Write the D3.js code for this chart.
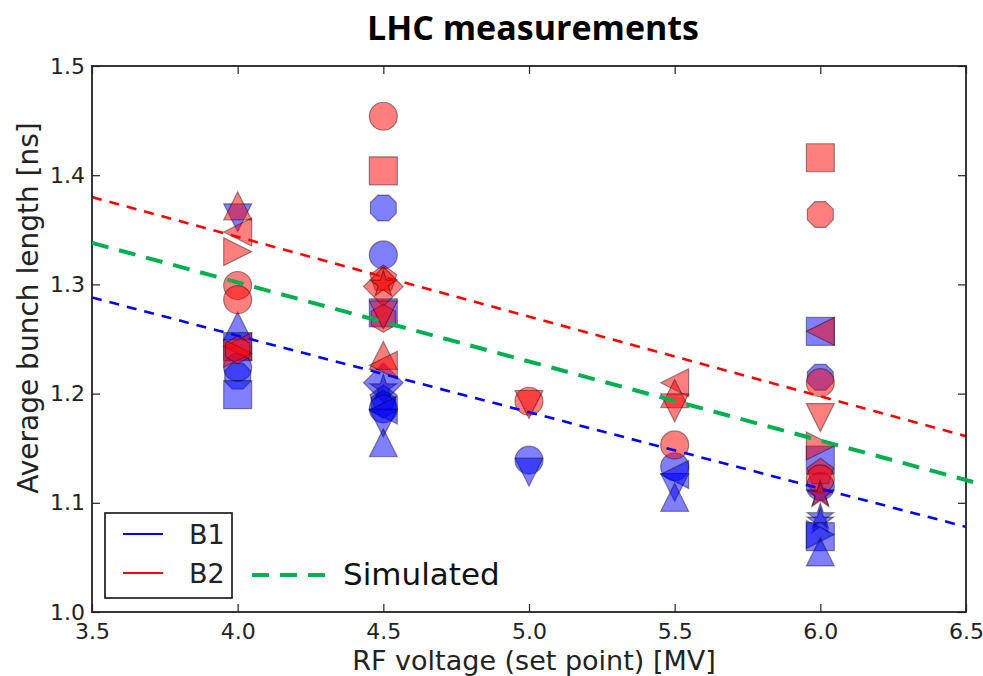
<!DOCTYPE html>
<html><head><meta charset="utf-8">
<script src="https://cdn.jsdelivr.net/npm/d3@7"></script>
<style>body{margin:0;background:#fff}svg{display:block}</style>
</head><body>
<svg id="chart" width="983" height="676"></svg>
<script>
// ---------- data ----------
const xTicks = [3.5, 4.0, 4.5, 5.0, 5.5, 6.0, 6.5];
const yTicks = [1.0, 1.1, 1.2, 1.3, 1.4, 1.5];
const titleText = "LHC measurements";
const xLabel = "RF voltage (set point) [MV]";
const yLabel = "Average bunch length [ns]";
const legendLabels = ["B1", "B2"];
const simLabel = "Simulated";

// measured average bunch length, beam 1 (voltage, length, marker)
const b1Points = [
  {v:4.0, len:1.361, m:"v"}, {v:4.0, len:1.262, m:"^"}, {v:4.0, len:1.243, m:"s"},
  {v:4.0, len:1.224, m:"o"}, {v:4.0, len:1.216, m:"8"}, {v:4.0, len:1.199, m:"s"},
  {v:4.5, len:1.370, m:"8"}, {v:4.5, len:1.327, m:"o"}, {v:4.5, len:1.274, m:"s"},
  {v:4.5, len:1.210, m:"D"}, {v:4.5, len:1.205, m:"*"}, {v:4.5, len:1.195, m:"p"},
  {v:4.5, len:1.190, m:"h"}, {v:4.5, len:1.186, m:"o"}, {v:4.5, len:1.185, m:"<"},
  {v:4.5, len:1.173, m:"v"}, {v:4.5, len:1.155, m:"^"},
  {v:5.0, len:1.139, m:"o"}, {v:5.0, len:1.128, m:"v"},
  {v:5.5, len:1.133, m:"o"}, {v:5.5, len:1.126, m:"<"}, {v:5.5, len:1.114, m:"v"},
  {v:5.5, len:1.105, m:"^"},
  {v:6.0, len:1.257, m:"s"}, {v:6.0, len:1.215, m:"8"}, {v:6.0, len:1.139, m:"s"},
  {v:6.0, len:1.115, m:"o"}, {v:6.0, len:1.108, m:"*"}, {v:6.0, len:1.087, m:"*"},
  {v:6.0, len:1.083, m:"*"}, {v:6.0, len:1.069, m:"s"}, {v:6.0, len:1.071, m:">"},
  {v:6.0, len:1.055, m:"^"}
];
// measured average bunch length, beam 2
const b2Points = [
  {v:4.0, len:1.372, m:"^"}, {v:4.0, len:1.348, m:"<"}, {v:4.0, len:1.330, m:">"},
  {v:4.0, len:1.299, m:"o"}, {v:4.0, len:1.286, m:"o"}, {v:4.0, len:1.243, m:"<"},
  {v:4.0, len:1.237, m:">"}, {v:4.0, len:1.240, m:"h"},
  {v:4.5, len:1.454, m:"o"}, {v:4.5, len:1.404, m:"s"}, {v:4.5, len:1.305, m:"p"},
  {v:4.5, len:1.298, m:"D"}, {v:4.5, len:1.300, m:"*"}, {v:4.5, len:1.269, m:"h"},
  {v:4.5, len:1.272, m:"v"}, {v:4.5, len:1.235, m:"^"}, {v:4.5, len:1.226, m:"<"},
  {v:5.0, len:1.193, m:"o"}, {v:5.0, len:1.190, m:"v"},
  {v:5.5, len:1.210, m:"<"}, {v:5.5, len:1.200, m:"^"}, {v:5.5, len:1.187, m:"v"},
  {v:5.5, len:1.153, m:"o"},
  {v:6.0, len:1.416, m:"s"}, {v:6.0, len:1.364, m:"8"}, {v:6.0, len:1.257, m:"<"},
  {v:6.0, len:1.210, m:"o"}, {v:6.0, len:1.178, m:"v"}, {v:6.0, len:1.152, m:">"},
  {v:6.0, len:1.128, m:"p"}, {v:6.0, len:1.122, m:"o"}, {v:6.0, len:1.107, m:"*"}
];
// linear fits and simulation
const b1Fit = [{v:3.5, len:1.288}, {v:6.5, len:1.078}];
const b2Fit = [{v:3.5, len:1.380}, {v:6.5, len:1.161}];
const simFit = [{v:3.5, len:1.338}, {v:6.56, len:1.1165}];

// ---------- layout ----------
const W = 983, H = 676;
const plot = {left:92, right:966, top:66, bottom:612};
const svg = d3.select("#chart");
svg.append("rect").attr("width", W).attr("height", H).attr("fill", "#fff");

const x = d3.scaleLinear().domain([3.5, 6.5]).range([plot.left, plot.right]);
const y = d3.scaleLinear().domain([1.0, 1.5]).range([plot.bottom, plot.top]);

const fontMain = "'DejaVu Sans', sans-serif";
const textCol = "#222";

// marker shapes (size = full diameter in px)
function poly(ctx, pts) {
  ctx.moveTo(pts[0][0], pts[0][1]);
  for (let i = 1; i < pts.length; i++) ctx.lineTo(pts[i][0], pts[i][1]);
  ctx.closePath();
}
function regular(n, r, rot) {
  return d3.range(n).map(i => {
    const a = rot + i * 2 * Math.PI / n;
    return [r * Math.sin(a), -r * Math.cos(a)];
  });
}
const shapes = {
  "o": {draw(ctx, s){ const r = s/2; ctx.moveTo(r,0); ctx.arc(0,0,r,0,2*Math.PI); ctx.closePath(); }},
  "s": {draw(ctx, s){ const h = s/2; poly(ctx, [[-h,-h],[h,-h],[h,h],[-h,h]]); }},
  "8": {draw(ctx, s){ poly(ctx, regular(8, s/2, Math.PI/8)); }},
  "^": {draw(ctx, s){ const h = s/2; poly(ctx, [[0,-h],[h,h],[-h,h]]); }},
  "v": {draw(ctx, s){ const h = s/2; poly(ctx, [[0,h],[h,-h],[-h,-h]]); }},
  "<": {draw(ctx, s){ const h = s/2; poly(ctx, [[-h,0],[h,-h],[h,h]]); }},
  ">": {draw(ctx, s){ const h = s/2; poly(ctx, [[h,0],[-h,-h],[-h,h]]); }},
  "D": {draw(ctx, s){ const h = s/Math.SQRT2; poly(ctx, [[0,-h],[h,0],[0,h],[-h,0]]); }},
  "p": {draw(ctx, s){ poly(ctx, regular(5, s/2, 0)); }},
  "h": {draw(ctx, s){ poly(ctx, regular(6, s/2, 0)); }},
  "*": {draw(ctx, s){
    const ro = s/2, ri = ro * 0.381966;
    const pts = d3.range(10).map(i => {
      const a = i * Math.PI / 5, r = i % 2 ? ri : ro;
      return [r * Math.sin(a), -r * Math.cos(a)];
    });
    poly(ctx, pts);
  }}
};
const markerSize = 28;
const symbolGen = d3.symbol().size(markerSize);

// clip for plot area
svg.append("clipPath").attr("id", "plotclip").append("rect")
  .attr("x", plot.left).attr("y", plot.top)
  .attr("width", plot.right - plot.left).attr("height", plot.bottom - plot.top);

const markG = svg.append("g").attr("clip-path", "url(#plotclip)");
function drawPoints(data, col) {
  markG.append("g").selectAll("path").data(data).join("path")
    .attr("transform", d => `translate(${x(d.v)},${y(d.len)})`)
    .attr("d", d => symbolGen.type(shapes[d.m])())
    .attr("fill", col).attr("fill-opacity", 0.5)
    .attr("stroke", "#000").attr("stroke-opacity", 0.4).attr("stroke-width", 1.2)
    .attr("stroke-linejoin", "miter");
}
drawPoints(b1Points, "#0000ff");
drawPoints(b2Points, "#ff0000");

const line = d3.line().x(d => x(d.v)).y(d => y(d.len));
markG.append("path").datum(b1Fit).attr("d", line)
  .attr("fill", "none").attr("stroke", "#0000ff").attr("stroke-width", 2.6)
  .attr("stroke-dasharray", "10,8");
markG.append("path").datum(b2Fit).attr("d", line)
  .attr("fill", "none").attr("stroke", "#ff0000").attr("stroke-width", 2.6)
  .attr("stroke-dasharray", "10,8");

// axes
const fmt = d3.format(".1f");
const axB = svg.append("g").attr("transform", `translate(0,${plot.bottom})`)
  .call(d3.axisBottom(x).tickValues(xTicks).tickFormat(fmt).tickSize(-8).tickPadding(11));
const axL = svg.append("g").attr("transform", `translate(${plot.left},0)`)
  .call(d3.axisLeft(y).tickValues(yTicks).tickFormat(fmt).tickSize(-8).tickPadding(7));
const axT = svg.append("g").attr("transform", `translate(0,${plot.top})`)
  .call(d3.axisTop(x).tickValues(xTicks).tickFormat("").tickSize(-8));
const axR = svg.append("g").attr("transform", `translate(${plot.right},0)`)
  .call(d3.axisRight(y).tickValues(yTicks).tickFormat("").tickSize(-8));
[axB, axL, axT, axR].forEach(g => {
  g.select(".domain").remove();
  g.selectAll(".tick line").attr("stroke", "#222").attr("stroke-width", 1.2);
  g.selectAll(".tick text").attr("fill", textCol).attr("font-size", 22)
    .attr("font-family", fontMain);
});
svg.append("rect").attr("x", plot.left).attr("y", plot.top)
  .attr("width", plot.right - plot.left).attr("height", plot.bottom - plot.top)
  .attr("fill", "none").attr("stroke", "#222").attr("stroke-width", 1.8);

// simulated line (drawn over, extends slightly past the frame)
svg.append("path").datum(simFit).attr("d", line)
  .attr("fill", "none").attr("stroke", "#00b050").attr("stroke-width", 4)
  .attr("stroke-dasharray", "17,11");

// title & labels
svg.append("text").attr("x", 533).attr("y", 40).attr("text-anchor", "middle")
  .attr("font-family", "'Open Sans', sans-serif").attr("font-weight", "bold")
  .attr("font-size", 34).attr("fill", "#000").text(titleText);
svg.append("text").attr("x", 534).attr("y", 670).attr("text-anchor", "middle")
  .attr("font-family", fontMain).attr("font-size", 27).attr("fill", textCol).text(xLabel);
svg.append("text").attr("transform", "translate(38,308) rotate(-90)").attr("text-anchor", "middle")
  .attr("font-family", fontMain).attr("font-size", 28).attr("fill", textCol).text(yLabel);

// legend
const leg = svg.append("g");
leg.append("rect").attr("x", 105).attr("y", 513).attr("width", 127).attr("height", 85)
  .attr("fill", "#fff").attr("stroke", "#111").attr("stroke-width", 1.6);
const legCols = ["#0000ff", "#ff0000"];
legendLabels.forEach((lab, i) => {
  const yy = 534 + i * 39;
  leg.append("line").attr("x1", 123).attr("x2", 163).attr("y1", yy).attr("y2", yy)
    .attr("stroke", legCols[i]).attr("stroke-width", 2.2);
  leg.append("text").attr("x", 189).attr("y", yy + 10).attr("font-family", fontMain)
    .attr("font-size", 27).attr("fill", textCol).text(lab);
});
svg.append("line").attr("x1", 252).attr("x2", 327).attr("y1", 575).attr("y2", 575)
  .attr("stroke", "#00b050").attr("stroke-width", 4).attr("stroke-dasharray", "17,11");
svg.append("text").attr("x", 343).attr("y", 585).attr("font-family", fontMain)
  .attr("font-size", 31).attr("fill", "#111").text(simLabel);
</script>
</body></html>
